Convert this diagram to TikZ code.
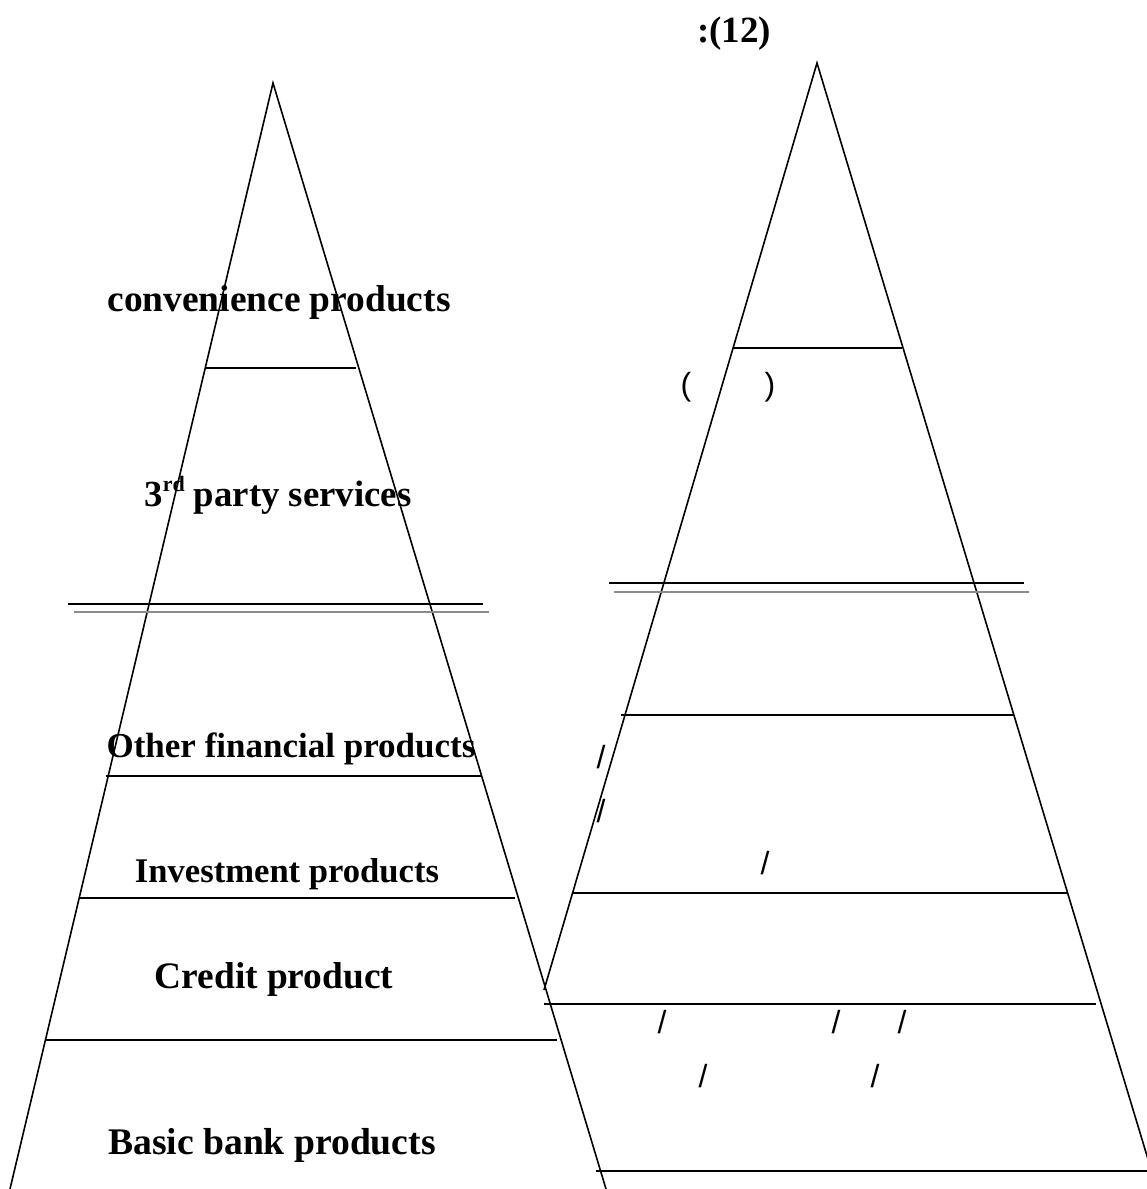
\documentclass[tikz,border=0pt]{standalone}
\usepackage{fontspec}
\setmainfont{Liberation Serif}
\newfontfamily\glyphfont{Liberation Sans}
% small raised ordinal suffix
\newcommand{\ordsuffix}[1]{\raisebox{15pt}{\fontsize{22}{22}\selectfont #1}}
\begin{document}
\begin{tikzpicture}[x=1pt,y=-1pt,
  edge/.style={line width=1.6pt,black},
  rule/.style={line width=1.8pt,black},
  shade/.style={line width=1.8pt,black!45},
  label/.style={inner sep=0pt,anchor=base,font=\fontsize{#1}{40}\selectfont\bfseries},
  label/.default=37,
  glyph/.style={inner sep=0pt,anchor=base,font=\glyphfont\fontsize{32}{38}\selectfont}]
\useasboundingbox (0,0) rectangle (1147,1189);
\clip (0,0) rectangle (1147,1189);

% left pyramid
\coordinate (la) at (273,83);
\coordinate (lbl) at (10,1189);
\coordinate (lbr) at (606,1189);
\draw[edge] (lbl) -- (la) -- (lbr);
\draw[rule] (205,368) -- (356,368);
\draw[rule] (68,604) -- (483,604);
\draw[shade] (74,612) -- (489,612);
\draw[rule] (106,776) -- (482,776);
\draw[rule] (80,898) -- (515,898);
\draw[rule] (45,1040) -- (557,1040);

\node[label=37.4] (conv) at (279,311) {convenience products};
\node[label=36.8] (third) at (278,506) {3\ordsuffix{rd} party services};
\node[label=35] (other) at (291,757) {Other financial products};
\node[label=34.6] (invest) at (287,882) {Investment products};
\node[label=37.4] (credit) at (274,988) {Credit product};
\node[label=37.6] (basic) at (272,1154) {Basic bank products};

% right pyramid
\coordinate (ra) at (817,63);
\coordinate (rbl) at (544,990);
\coordinate (rbr) at (1157,1189);
\draw[edge] (rbl) -- (ra) -- (rbr);
\draw[rule] (733,348) -- (902,348);
\draw[rule] (609,583) -- (1024,583);
\draw[shade] (614,592) -- (1029,592);
\draw[rule] (621,715) -- (1013,715);
\draw[rule] (572,893) -- (1067,893);
\draw[rule] (544,1004) -- (1096,1004);
\draw[rule] (596,1171) -- (1147,1171);

\node[label=37] (title) at (734,42) {:(12)};
\node[glyph] (po) at (686,395) {(};
\node[glyph] (pc) at (770,395) {)};
\node[glyph] (s1) at (601,768) {/};
\node[glyph] (s2) at (601,822) {/};
\node[glyph] (s3) at (765,874) {/};
\node[glyph] (s4) at (662,1033) {/};
\node[glyph] (s5) at (836,1033) {/};
\node[glyph] (s6) at (902,1033) {/};
\node[glyph] (s7) at (703,1087) {/};
\node[glyph] (s8) at (875,1087) {/};
\end{tikzpicture}
\end{document}
